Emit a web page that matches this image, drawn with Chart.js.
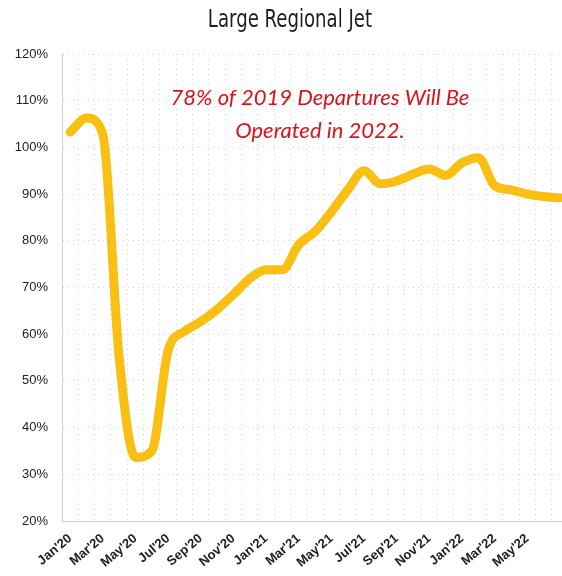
<!DOCTYPE html>
<html>
<head>
<meta charset="utf-8">
<script src="https://cdn.jsdelivr.net/npm/chart.js@4.4.1/dist/chart.umd.min.js"></script>
<style>
  html, body { margin: 0; padding: 0; background: #fff; overflow: hidden; }
  #wrap { width: 580px; height: 576px; position: relative; }
</style>
</head>
<body>
<div id="wrap"><canvas id="jetChart"></canvas></div>
<script>
// monthly share of 2019 departures, large regional jet fleet
const months = [
  "Jan'20", "Feb'20", "Mar'20", "Apr'20", "May'20", "Jun'20",
  "Jul'20", "Aug'20", "Sep'20", "Oct'20", "Nov'20", "Dec'20",
  "Jan'21", "Feb'21", "Mar'21", "Apr'21", "May'21", "Jun'21",
  "Jul'21", "Aug'21", "Sep'21", "Oct'21", "Nov'21", "Dec'21",
  "Jan'22", "Feb'22", "Mar'22", "Apr'22", "May'22", "Jun'22", "Jul'22"
];
const departuresPct = [
  103.3, 106.3, 102.8, 55.0, 33.6, 35.0,
  56.5, 60.6, 62.7, 65.3, 68.5, 71.9,
  73.8, 73.8, 79.2, 82.0, 86.2, 90.9,
  95.0, 92.2, 92.8, 94.3, 95.4, 94.0,
  96.7, 97.8, 91.8, 90.9, 90.0, 89.5, 89.2
];
// only these month labels are printed under the axis
const shownTicks = [
  "Jan'20", "Mar'20", "May'20", "Jul'20", "Sep'20", "Nov'20",
  "Jan'21", "Mar'21", "May'21", "Jul'21", "Sep'21", "Nov'21",
  "Jan'22", "Mar'22", "May'22"
];
const yTicks = [20, 30, 40, 50, 60, 70, 80, 90, 100, 110, 120];

const titleText = "Large Regional Jet";
const noteLines = ["78% of 2019 Departures Will Be", "Operated in 2022."];

const headerText = {
  id: "headerText",
  afterDraw(chart) {
    const ctx = chart.ctx;
    ctx.save();
    ctx.textAlign = "center";
    ctx.textBaseline = "middle";
    ctx.fillStyle = "#1e1e1e";
    ctx.font = "24px 'DejaVu Sans Condensed', sans-serif";
    // squeeze the title a little narrower
    ctx.translate(290, 21);
    ctx.scale(0.84, 1);
    ctx.fillText(titleText, 0, 0);
    ctx.restore();

    ctx.save();
    ctx.textAlign = "center";
    ctx.textBaseline = "middle";
    ctx.fillStyle = "#d9121c";
    ctx.font = "italic 22px Lato, sans-serif";
    ctx.fillText(noteLines[0], 320, 98);
    ctx.fillText(noteLines[1], 320, 131);
    ctx.restore();
  }
};

new Chart(document.getElementById("jetChart"), {
  type: "line",
  data: {
    labels: months,
    datasets: [{
      data: departuresPct,
      borderColor: "#f9bf12",
      borderWidth: 9,
      pointRadius: 0,
      cubicInterpolationMode: "monotone",
      borderCapStyle: "round",
      borderJoinStyle: "round",
      fill: false
    }]
  },
  options: {
    responsive: true,
    maintainAspectRatio: false,
    animation: false,
    layout: { padding: { top: 54, right: 0, left: 0, bottom: 0 } },
    plugins: {
      legend: { display: false },
      tooltip: { enabled: false }
    },
    scales: {
      x: {
        offset: true,
        grid: {
          offset: true,
          color: "#d6d6d6",
          lineWidth: 1,
          drawTicks: false
        },
        border: { display: true, color: "#cfcfcf", dash: [1, 4] },
        ticks: {
          autoSkip: false,
          maxRotation: 40,
          minRotation: 40,
          padding: 10,
          color: "#222",
          font: { family: "'Liberation Sans', Arial, sans-serif", size: 13, weight: "bold" },
          callback(value) {
            const m = months[value];
            return shownTicks.includes(m) ? m : "";
          }
        },
        afterFit(scale) { scale.height = 55; }
      },
      y: {
        min: 20,
        max: 120,
        afterBuildTicks(scale) {
          scale.ticks = yTicks.map(v => ({ value: v }));
        },
        grid: { color: "#d6d6d6", lineWidth: 1, drawTicks: false },
        border: { display: true, color: "#cfcfcf", dash: [1, 4] },
        ticks: {
          padding: 14,
          color: "#222",
          font: { family: "'Liberation Sans', Arial, sans-serif", size: 13 },
          callback: v => v + "%"
        },
        afterFit(scale) { scale.width = 62; }
      }
    }
  },
  plugins: [headerText]
});
</script>
</body>
</html>
